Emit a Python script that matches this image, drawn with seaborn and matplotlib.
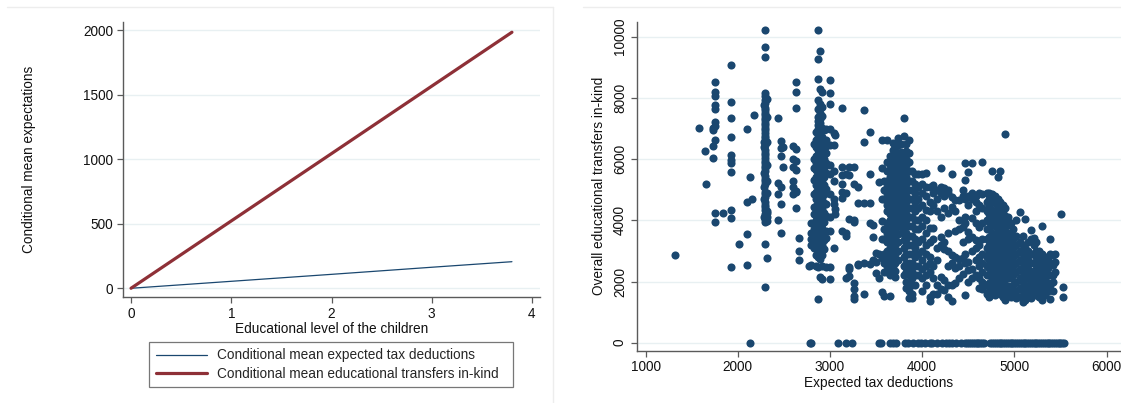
import matplotlib
matplotlib.use("Agg")
import matplotlib.pyplot as plt
from matplotlib.lines import Line2D
import pandas as pd
import seaborn as sns

# ---------------------------------------------------------------
# Left panel: conditional means by educational level of the children
# ---------------------------------------------------------------
edu_level = [0, 1, 2, 3, 3.8]
mean_tax_deductions = [0, 54, 108, 163, 206]
mean_transfers_inkind = [0, 522, 1044, 1567, 1985]
series_labels = ["Conditional mean expected tax deductions",
                 "Conditional mean educational transfers in-kind"]

# ---------------------------------------------------------------
# Right panel: transfers in-kind by expected tax deductions
# (each key is an expected-deduction value, each list the transfers)
# ---------------------------------------------------------------
west_cols = {
    1315: [2880],
    1580: [7020],
    1645: [6260],
    1660: [5190],
    1730: [6030, 6430, 6950, 7030],
    1750: [8520, 8190, 8060, 7760, 7630, 7210, 7080, 6620, 4250, 3940],
    1835: [4250],
    1925: [9075, 7880, 7350, 6720, 6140, 5970, 5880, 5570, 4350, 4070, 2480],
    2015: [3235],
    2100: [7000, 4600, 3560, 2550],
    2130: [5420, 0],
    2150: [4680],
    2180: [7440],
    2290: [7760, 6380, 5530, 4680, 4120, 6560, 5100],
    2300: [10220, 9650, 9330, 8150, 8060, 7930, 7840, 7680, 7600, 7520,
           7430, 7350, 7270, 7190, 7100, 7020, 6940, 6850, 6770, 6680,
           6460, 6290, 6200, 6120, 6030, 5950, 5870, 5780, 5700, 5610,
           5440, 5360, 5270, 5200, 4930, 4850, 4770, 4600, 4510, 4430,
           4340, 4200, 4030, 3950, 3230, 1830],
    2315: [7980, 7390, 6560, 5820, 5300, 4900, 4250, 4300, 4100, 3980,
           2780],
    2440: [7350, 5230, 4850, 4020],
    2465: [6590, 6350, 6100, 5100, 4530, 3600],
    2495: [5750, 6380],
    2600: [6420, 6010, 5730, 5300, 5080, 4870],
    2635: [8510, 8180, 7680, 6330, 5950, 5630, 4970, 4920, 4400],
    2660: [3420, 3000, 2690],
}

central_cols = {
    2775: [2510],
    2800: [3900, 3600, 3380, 3180, 2530],
    2830: [6480, 6010, 5720, 5310, 4860, 4440, 4190, 3900, 3700, 3500,
           3300, 3100],
    2850: [6900, 6620, 6380, 6100, 5870, 5640, 5400, 5170, 4940, 4700,
           4470, 4240, 4000, 3770, 3540, 3300, 3080, 2850, 2520],
    2870: [10220, 9260, 8620, 7930, 7630, 7390, 7250, 7120, 6980, 6850,
           6710, 6580, 6440, 6310, 6170, 6040, 5900, 5770, 5630, 5500,
           5360, 5230, 5090, 4960, 4820, 4690, 4550, 4420, 4280, 4150,
           4010, 3880, 3740, 3610, 3470, 3340, 3200, 3070, 2930, 2800,
           2480, 1420],
    2890: [9530, 8290, 7800, 7500, 7310, 7180, 7040, 6910, 6770, 6640,
           6500, 6370, 6230, 6100, 5960, 5830, 5690, 5560, 5420, 5290,
           5150, 5020, 4880, 4750, 4610, 4480, 4340, 4210, 4070, 3940,
           3800, 3670, 3530, 3400, 3260, 3130, 2990, 2860, 2720, 2160],
    2910: [8200, 7690, 7400, 7010, 6720, 6450, 6260, 6080, 5920, 5740,
           5580, 5400, 5240, 5060, 4900, 4720, 4560, 4380, 4220, 4040,
           3880, 3700, 3540, 3360, 3200, 3020, 2860, 2500, 2070],
    2935: [6950, 6600, 6300, 6000, 5700, 5400, 5150, 4850, 4550, 4250,
           3950, 3650, 3350, 3050],
    2960: [6970, 6620, 6430, 6200, 5880, 5560, 5020, 4880, 4540, 4150,
           3650, 3420, 2460],
    3000: [8580, 8150, 7790, 7000, 6450, 5800, 5500, 4870, 4100, 3660,
           2490, 2070],
    3040: [6850, 6470, 5600, 5300, 4700, 4540, 3110],
    3060: [6800, 4380, 4220],
    3130: [7680, 5750, 5480, 5200, 4940, 4720, 3650],
    3170: [5500, 4900, 3600, 3500, 2120],
    3210: [5750, 5480, 4050, 2490, 2400, 2180],
    3260: [5750, 5200, 4000, 3960, 1950, 1750, 1520, 1430],
    3300: [5100, 4570, 2580, 2540],
    3370: [7600, 6570, 4570, 2600, 1600],
    3430: [6900, 5510, 4570, 3920, 2580],
    3470: [3840, 3450, 2700],
    3500: [2920, 2650, 2280],
    3530: [5240, 2900, 2100],
    3560: [6640, 5700, 4700, 3980, 3390, 2760, 1650],
    3590: [5300, 5000, 4700, 3700, 3400, 2900, 2600, 2300, 1540],
    3620: [6620, 5900, 5600, 5300, 5100, 4900, 4700, 4500, 4300, 3900,
           3600, 3300, 3000, 2700, 2500, 2300],
    3650: [6100, 5800, 5600, 5400, 5200, 5000, 4800, 4600, 4400, 4200,
           4000, 3700, 3400, 3100, 2800, 2600, 2400, 2200, 1540],
    3680: [6540, 6300, 6000, 5800, 5650, 5500, 5350, 5200, 5050, 4900,
           4750, 4600, 4450, 4300, 4150, 4000, 3850, 3600, 3300, 3000,
           2750, 2500, 2250],
    3710: [6400, 6150, 5900, 5750, 5600, 5450, 5300, 5150, 5000, 4850,
           4700, 4550, 4400, 4250, 4100, 3950, 3700, 3450, 3200, 2900,
           2600, 2350, 2150],
    3740: [6700, 6450, 6200, 5950, 5800, 5650, 5500, 5350, 5200, 5050,
           4900, 4750, 4600, 4450, 4300, 4150, 4000, 3800, 3550, 3300,
           3000, 2700],
    3770: [6480, 6230, 6000, 5800, 5600, 5450, 5300, 5150, 5000, 4850,
           4700, 4550, 4400, 4250, 4100, 3950, 3800, 3600],
    3800: [7350, 6750, 6200, 5950, 5750, 5550, 5350, 5150, 4950, 4750,
           4550, 4350, 4150, 3950, 3750, 3550, 3350, 3100, 2800, 2500,
           2200],
    3830: [6500, 6250, 6000, 5800, 5600, 5400, 5200, 5000, 4800, 4600,
           4400, 4200, 4000, 3800, 3600, 3400, 3200, 2900, 2600, 2300,
           2000, 1800],
    3860: [6620, 6200, 5900, 5600, 5300, 5000, 4700, 4400, 4100, 3800,
           3500, 3200, 2900, 2600, 2400, 2200, 1950, 1700, 1450],
    3890: [5600, 5300, 5000, 4700, 4400, 4100, 3800, 3500, 3200, 2900,
           2600, 2300, 2100, 1900, 1600, 1450],
    3920: [5500, 5200, 4900, 4600, 4300, 4000, 3700, 3400, 3100, 2800,
           2500, 2200, 1900],
    3950: [5500, 5100, 4700, 4400, 4000, 3700, 3300, 2900, 2500, 2200],
}

east_cols = {
    4000: [5500, 5200, 4900, 4500, 4100, 3800, 3400, 3000, 2700, 2400,
           2100, 1700],
    4040: [5550, 5100, 4800, 4340, 4000, 3600, 3200, 2900, 2500, 2200,
           1900],
    4080: [5100, 4610, 4300, 3740, 3300, 2800, 2600, 2300, 1500, 1370],
    4120: [5170, 4880, 4500, 3740, 3400, 2500, 2100, 1590],
    4160: [5000, 4700, 4300, 3100, 2700, 1890, 1600],
    4200: [5700, 5100, 4900, 4120, 3470, 3200, 2160, 1750],
    4240: [5050, 4800, 4400, 3300, 3050, 2050, 1720],
    4280: [5000, 4880, 4230, 3600, 3000, 2500, 1900, 1480],
    4320: [5500, 4770, 4450, 2870, 2600, 1890, 1360],
    4360: [4660, 4300, 3650, 2810, 2450, 1940],
    4400: [4660, 4010, 3700, 2750, 2500, 2100],
    4440: [5000, 4800, 3790, 3300, 2760, 2250],
    4470: [5860, 5320, 4700, 4120, 3900, 2900, 2600, 1560],
    4500: [5590, 4800, 4500, 3630, 3400, 2650, 2380, 1980],
    4540: [5860, 4900, 4700, 4070, 3470, 3000, 2400, 2100],
    4580: [4800, 4600, 4300, 3900, 3360, 3100, 2700, 2200],
    4620: [4900, 4500, 3790, 3200, 2800, 2500, 2100, 1800],
    4650: [5895, 4850, 4400, 3900, 3400, 2900, 2600, 2300, 2000, 1750],
    4700: [4900, 4600, 4300, 4000, 3700, 3400, 3100, 2800, 2500, 2200,
           1900, 1600],
    4730: [4900, 4700, 4450, 4200, 3950, 3700, 3450, 3200, 2950, 2700,
           2450, 2200, 1950, 1700, 1480],
    4760: [5600, 4850, 4600, 4350, 4100, 3850, 3600, 3350, 3100, 2850,
           2600, 2350, 2100, 1850, 1700],
    4790: [4800, 4550, 4300, 4050, 3800, 3550, 3300, 3050, 2800, 2550,
           2300, 2050, 1800, 1550],
    4820: [5400, 4700, 4450, 4200, 3950, 3700, 3450, 3200, 2950, 2700,
           2450, 2200, 1950, 1700],
    4850: [5600, 4600, 4350, 4100, 3850, 3600, 3350, 3100, 2850, 2600,
           2350, 2100, 1850, 1600],
    4880: [4500, 4250, 4000, 3750, 3500, 3250, 3000, 2750, 2500, 2250,
           2000, 1750, 1500],
    4900: [6810, 4400, 4150, 3900, 3650, 3400, 3150, 2900, 2650, 2400,
           2150, 1900, 1650, 1380],
    4930: [4100, 3850, 3600, 3350, 3100, 2850, 2600, 2350, 2100, 1850,
           1600],
    4960: [3900, 3600, 3300, 3000, 2700, 2400, 2100, 1800, 1500],
    4990: [3700, 3400, 3100, 2800, 2500, 2200, 1900, 1600],
    5020: [4000, 3500, 3200, 2900, 2600, 2300, 2000, 1700, 1450],
    5060: [4260, 3300, 3000, 2700, 2400, 2100, 1800, 1500],
    5090: [3500, 3200, 2900, 2600, 2300, 2000, 1700, 1320],
    5120: [4030, 3100, 2800, 2500, 2200, 1900, 1600, 1400],
    5150: [3300, 3000, 2700, 2400, 2100, 1800, 1500],
    5180: [3680, 3400, 2900, 2600, 2300, 2000, 1700, 1470],
    5210: [3410, 3200, 2900, 2600, 2350, 2100, 1850, 1600],
    5240: [3300, 3000, 2800, 2550, 2300, 2050, 1800, 1550],
    5270: [3000, 2750, 2500, 2250, 2000, 1750, 1500],
    5300: [3815, 2900, 2650, 2400, 2150, 1900, 1650, 1400],
    5330: [2800, 2550, 2300, 2050, 1800, 1550],
    5360: [2700, 2450, 2200, 1950, 1700],
    5390: [3380, 2900, 2600, 2200, 1900, 1420],
    5420: [2870, 2540, 2210, 2000, 1700],
    5440: [2900, 2650, 2300],
    5510: [4200],
    5530: [1830, 1480],
}

# Households with zero transfers in-kind
zero_transfer_x = [2780, 2800, 3090, 3170, 3240, 3530, 3550, 3650, 3680,
                   3720, 3810, 3850, 3900, 3950, 3990, 4030, 4080, 4110,
                   4160, 4220, 4260, 4290, 4320, 4370, 4420, 4460, 4490,
                   4510, 4530, 4550, 4570, 4590, 4610, 4630, 4650, 4670,
                   4740, 4760, 4780, 4800, 4820, 4840, 4860, 4880, 4900,
                   4920, 4940, 4960, 4980, 5000, 5020, 5040, 5060, 5080,
                   5100, 5120, 5140, 5160, 5180, 5200, 5220, 5240, 5260,
                   5280, 5300, 5320, 5340, 5360, 5380, 5400, 5420, 5440,
                   5460, 5480, 5500, 5520, 5540]

# ---------------------------------------------------------------
# Build tidy tables
# ---------------------------------------------------------------
line_df = pd.DataFrame({
    "edu": edu_level * 2,
    "value": mean_tax_deductions + mean_transfers_inkind,
    "series": [series_labels[0]] * len(edu_level) + [series_labels[1]] * len(edu_level),
})

rows = []
for cols in (west_cols, central_cols, east_cols):
    for xv, ys in cols.items():
        for yv in ys:
            rows.append((xv, yv))
for xv in zero_transfer_x:
    rows.append((xv, 0))
scatter_df = pd.DataFrame(rows, columns=["deduction", "transfers"])

# ---------------------------------------------------------------
# Styling
# ---------------------------------------------------------------
sns.set_theme(style="white")
plt.rcParams["font.family"] = ["Liberation Sans", "DejaVu Sans"]

NAVY = "#1A476F"
MAROON = "#8E3037"
AXIS = "#5a5a5a"
GRID = "#E8F0F2"
FS_TICK = 9.8
FS_LABEL = 9.8

W, H = 1121, 403
fig = plt.figure(figsize=(W / 100, H / 100), dpi=100)

def px_axes(x0, y0, x1, y1):
    return fig.add_axes([x0 / W, 1 - y1 / H, (x1 - x0) / W, (y1 - y0) / H])

ax1 = px_axes(123, 22.3, 540, 297.3)
ax2 = px_axes(636.6, 21.7, 1121, 350.7)

def stata_axes(ax):
    for side in ("top", "right"):
        ax.spines[side].set_visible(False)
    for side in ("left", "bottom"):
        ax.spines[side].set_color(AXIS)
        ax.spines[side].set_linewidth(1.0)
    ax.tick_params(axis="both", direction="out", length=4, width=0.9,
                   color=AXIS, labelsize=FS_TICK, labelcolor="#111111",
                   left=True, bottom=True, pad=3)
    ax.yaxis.grid(True, color=GRID, linewidth=1.0)
    ax.xaxis.grid(False)
    ax.set_axisbelow(True)

# Left panel: fitted lines
sns.lineplot(data=line_df, x="edu", y="value", hue="series", size="series",
             palette={series_labels[0]: NAVY, series_labels[1]: MAROON},
             sizes={series_labels[0]: 0.9, series_labels[1]: 2.3},
             ax=ax1, legend=True)
stata_axes(ax1)
ax1.set_xlim(-0.08, 4.08)
ax1.set_ylim(-70, 2062)
ax1.set_xticks([0, 1, 2, 3, 4])
ax1.set_yticks([0, 500, 1000, 1500, 2000])
ax1.set_xlabel("Educational level of the children", fontsize=FS_LABEL,
               labelpad=1, color="#111111")
ax1.set_ylabel("Conditional mean expectations", fontsize=FS_LABEL,
               labelpad=34, color="#111111")

handles, labels = ax1.get_legend_handles_labels()
ax1.legend(handles=handles, labels=labels,
           loc="center", bbox_to_anchor=(149.4 / W, 1 - 387.3 / H,
                                         (513.4 - 149.4) / W, 45 / H),
           bbox_transform=fig.transFigure, mode="expand",
           fontsize=FS_LABEL, frameon=True, fancybox=False,
           edgecolor="#777777", framealpha=1, borderpad=0.45,
           handlelength=3.8, handletextpad=0.7, labelspacing=0.35,
           borderaxespad=0)
ax1.get_legend().get_frame().set_linewidth(0.9)

# Right panel: scatter
sns.scatterplot(data=scatter_df, x="deduction", y="transfers", ax=ax2,
                color=NAVY, s=34, linewidth=0, alpha=1)
stata_axes(ax2)
ax2.set_xlim(903, 6157)
ax2.set_ylim(-261, 10490)
ax2.set_xticks([1000, 2000, 3000, 4000, 5000, 6000])
ax2.set_yticks([0, 2000, 4000, 6000, 8000, 10000])
ax2.tick_params(axis="y", labelrotation=90)
for lbl in ax2.get_yticklabels():
    lbl.set_va("center")
ax2.set_xlabel("Expected tax deductions", fontsize=FS_LABEL, labelpad=1,
               color="#111111")
ax2.set_ylabel("Overall educational transfers in-kind", fontsize=FS_LABEL,
               labelpad=5, color="#111111")

# Faint outer borders of the two graph regions
border = "#EDEDED"
fig.add_artist(Line2D([7 / W, 553 / W], [1 - 7 / H, 1 - 7 / H],
                      transform=fig.transFigure, color=border, lw=1))
fig.add_artist(Line2D([553 / W, 553 / W], [1 - 7 / H, 0],
                      transform=fig.transFigure, color=border, lw=1))
fig.add_artist(Line2D([583 / W, 1], [1 - 7 / H, 1 - 7 / H],
                      transform=fig.transFigure, color=border, lw=1))

fig.savefig("out.png", dpi=100, facecolor="white")
